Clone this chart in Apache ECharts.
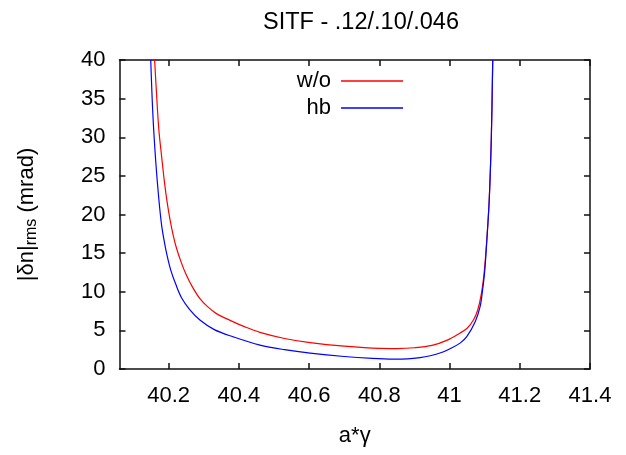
<!DOCTYPE html>
<html>
<head>
<meta charset="utf-8">
<script src="https://cdn.jsdelivr.net/npm/echarts@6/dist/echarts.min.js"></script>
<style>html,body{margin:0;padding:0;background:#fff}#c{width:626px;height:455px}</style>
</head>
<body>
<div id="c"></div>
<script>
var titleText = 'SITF - .12/.10/.046';
var seriesNames = ['w/o', 'hb'];
var xTicks = [40.2, 40.4, 40.6, 40.8, 41, 41.2, 41.4];
var yTicks = [0, 5, 10, 15, 20, 25, 30, 35, 40];

var woX = [40.160, 40.165, 40.172, 40.180, 40.188, 40.196, 40.204, 40.213, 40.222, 40.235, 40.250, 40.268, 40.289, 40.310, 40.335, 40.375, 40.420, 40.460, 40.530, 40.603, 40.700, 40.800, 40.850, 40.900, 40.950, 40.992, 41.030, 41.050, 41.068, 41.080, 41.090, 41.098, 41.106, 41.113, 41.119, 41.123];
var woY = [40, 36, 31, 27.5, 24.2, 21.5, 19.3, 17.3, 15.7, 13.9, 12.2, 10.6, 9.1, 8.1, 7.2, 6.3, 5.4, 4.75, 3.95, 3.41, 2.95, 2.67, 2.65, 2.75, 3.05, 3.7, 4.66, 5.27, 6.34, 7.6, 9.6, 12.2, 16.7, 21.9, 30, 40];

var hbX = [40.149, 40.155, 40.163, 40.172, 40.180, 40.188, 40.195, 40.206, 40.220, 40.237, 40.260, 40.289, 40.330, 40.383, 40.460, 40.530, 40.603, 40.700, 40.780, 40.840, 40.880, 40.916, 40.945, 40.975, 41.000, 41.030, 41.049, 41.073, 41.087, 41.094, 41.100, 41.106, 41.113, 41.119, 41.123];
var hbY = [40, 33, 27, 22, 18.6, 16.4, 14.8, 12.8, 11.0, 9.2, 7.7, 6.34, 5.1, 4.18, 3.1, 2.5, 2.05, 1.62, 1.38, 1.29, 1.32, 1.48, 1.72, 2.1, 2.6, 3.35, 4.18, 6.12, 8.07, 10.2, 12.6, 16.5, 21.9, 30, 40];

function pairs(xs, ys) { return xs.map(function (x, i) { return [x, ys[i]]; }); }

var FONT = 'Liberation Sans';
var axisLineStyle = { color: '#111', width: 1.5 };
var chart = echarts.init(document.getElementById('c'), null, { renderer: 'canvas' });
chart.setOption({
  animation: false,
  backgroundColor: '#fff',
  title: {
    text: titleText, left: 356, textAlign: 'center', top: 6,
    textStyle: { fontFamily: FONT, fontSize: 23.5, fontWeight: 'normal', color: '#000' }
  },
  legend: {
    orient: 'vertical', right: 218, top: 65, align: 'right',
    itemWidth: 62, itemHeight: 1.5, itemGap: 5, icon: 'rect',
    textStyle: { fontFamily: FONT, fontSize: 22, color: '#000', lineHeight: 22, padding: [0, 5, 0, 0] },
    data: seriesNames
  },
  grid: { left: 119.5, right: 36, top: 60, bottom: 86 },
  xAxis: [{
    type: 'value', min: 40.06, max: 41.4,
    name: 'a*γ', nameLocation: 'middle', nameGap: 56,
    nameTextStyle: { fontFamily: FONT, fontSize: 22, color: '#000' },
    axisLine: { show: true, lineStyle: axisLineStyle },
    axisTick: { show: true, inside: true, length: 6, customValues: xTicks, lineStyle: axisLineStyle },
    axisLabel: { customValues: xTicks, margin: 16, fontFamily: FONT, fontSize: 22, color: '#000' },
    splitLine: { show: false }
  }, {
    type: 'value', min: 40.06, max: 41.4, position: 'top',
    axisLine: { show: true, onZero: false, lineStyle: axisLineStyle },
    axisTick: { show: true, inside: true, length: 6, customValues: xTicks, lineStyle: axisLineStyle },
    axisLabel: { show: false }, splitLine: { show: false }
  }],
  yAxis: [{
    type: 'value', min: 0, max: 40, interval: 5,
    name: '|δn|{sub|rms} (mrad)', nameLocation: 'middle', nameGap: 80, nameRotate: 90,
    nameTextStyle: { fontFamily: FONT, fontSize: 22, color: '#000',
      rich: { sub: { fontFamily: FONT, fontSize: 16, color: '#000', padding: [10, 0, 0, 0] } } },
    axisLine: { show: true, lineStyle: axisLineStyle },
    axisTick: { show: true, inside: true, length: 6, lineStyle: axisLineStyle },
    axisLabel: { margin: 14, fontFamily: FONT, fontSize: 22, color: '#000' },
    splitLine: { show: false }
  }, {
    type: 'value', min: 0, max: 40, interval: 5, position: 'right',
    axisLine: { show: true, onZero: false, lineStyle: axisLineStyle },
    axisTick: { show: true, inside: true, length: 6, lineStyle: axisLineStyle },
    axisLabel: { show: false }, splitLine: { show: false }
  }],
  series: [{
    name: seriesNames[0], type: 'line', data: pairs(woX, woY),
    showSymbol: false, symbol: 'none', smooth: 0.35,
    lineStyle: { color: '#ff0000', width: 1.2 }, itemStyle: { color: '#ff0000' }, clip: true
  }, {
    name: seriesNames[1], type: 'line', data: pairs(hbX, hbY),
    showSymbol: false, symbol: 'none', smooth: 0.35,
    lineStyle: { color: '#0000ff', width: 1.2 }, itemStyle: { color: '#0000ff' }, clip: true
  }]
});
</script>
</body>
</html>
